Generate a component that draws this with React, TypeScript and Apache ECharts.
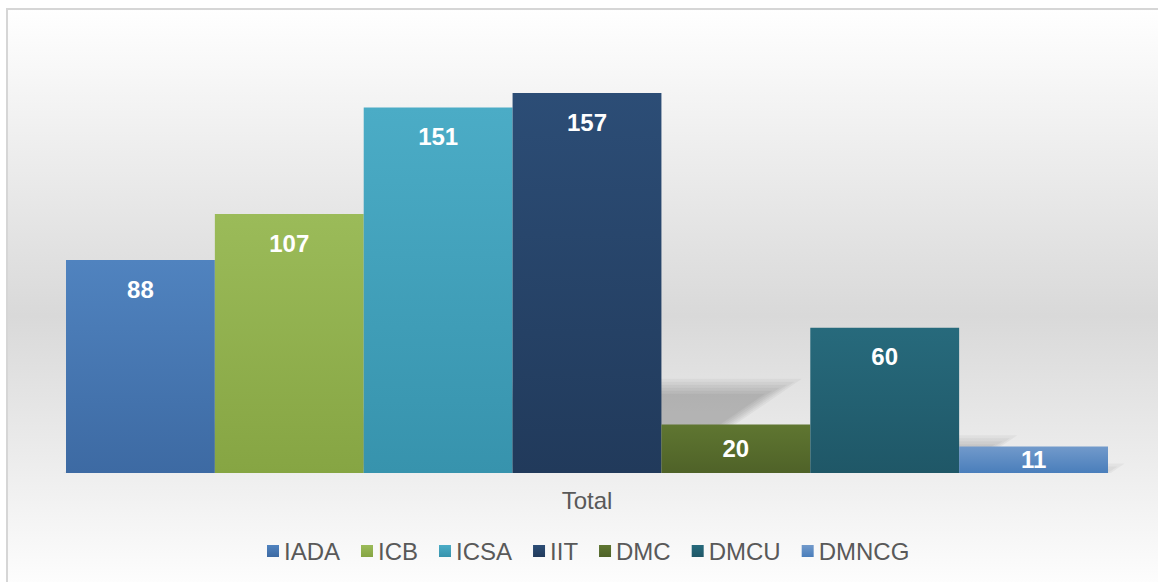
import React, { useEffect, useRef } from "react";
import * as echarts from "echarts";

const categories = ["Total"];
const seriesNames = ["IADA", "ICB", "ICSA", "IIT", "DMC", "DMCU", "DMNCG"];
const seriesValues = [88, 107, 151, 157, 20, 60, 11];
const topColors = ["#5083bf", "#9bbb59", "#4bacc6", "#2c4d76", "#5f7631", "#276a7c", "#729acb"];
const bottomColors = ["#3d6aa3", "#86a543", "#3793ad", "#213a5b", "#4f6228", "#1f5767", "#4a7ebb"];

export default function App() {
  const ref = useRef<HTMLDivElement>(null);
  useEffect(() => {
    if (!ref.current) return;
    const chart = echarts.init(ref.current, undefined, { renderer: "svg" });
    const font = "'Liberation Sans', Arial, sans-serif";
    const n = seriesNames.length;
    const barSeries = seriesNames.map((name, i) => ({
      name,
      type: "bar",
      z: 3,
      data: [seriesValues[i]],
      barGap: "0%",
      barCategoryGap: "0%",
      itemStyle: {
        color: new echarts.graphic.LinearGradient(0, 0, 0, 1, [
          { offset: 0, color: topColors[i] },
          { offset: 1, color: bottomColors[i] },
        ]),
      },
      label: {
        show: true,
        position: seriesValues[i] < 30 ? "inside" : "insideTop",
        distance: 17,
        color: "#ffffff",
        fontSize: 24,
        fontWeight: "bold",
        fontFamily: font,
      },
    }));
    // soft perspective shadows cast behind the bars (layered for a blur effect)
    const shadowSeries = {
      type: "custom",
      z: 1,
      silent: true,
      data: seriesValues.map((v, i) => [0, v, i]),
      encode: { x: 0, y: 1 },
      renderItem: (params: any, api: any) => {
        const idx = api.value(2);
        const top = api.coord([api.value(0), api.value(1)]);
        const base = api.coord([api.value(0), 0]);
        const band = api.size([1, 0])[0];
        const w = band / n;
        const x0 = base[0] - band / 2 + idx * w;
        const x1 = x0 + w;
        const h = base[1] - top[1];
        const sh = h * 0.24;
        const children: any[] = [];
        const layers = 6;
        for (let j = 0; j < layers; j++) {
          const d = (j - 1) * 3;
          const hh = Math.max(sh - d, 1);
          const s = 1.46 * hh;
          children.push({
            type: "polygon",
            shape: {
              points: [
                [x0 + d, base[1]],
                [x1 - d, base[1]],
                [x1 - d + s, base[1] - hh],
                [x0 + d + s, base[1] - hh],
              ],
            },
            style: { fill: "rgba(0,0,0,0.04)" },
          });
        }
        return { type: "group", children };
      },
    };
    chart.setOption({
      animation: false,
      graphic: [
        {
          type: "rect",
          z: -10,
          silent: true,
          shape: { x: 7, y: 9, width: 1200, height: 590 },
          style: {
            fill: new echarts.graphic.LinearGradient(0, 0, 0, 1, [
              { offset: 0, color: "#ffffff" },
              { offset: 0.52, color: "#d9d9d9" },
              { offset: 1, color: "#ffffff" },
            ]),
            stroke: "#d6d6d6",
            lineWidth: 2,
          },
        },
      ],
      grid: { left: 66, right: 50, top: 37.4, bottom: 109, containLabel: false },
      legend: {
        data: seriesNames,
        left: 267,
        top: 539,
        padding: 0,
        itemWidth: 12,
        itemHeight: 12,
        itemGap: 21,
        icon: "rect",
        textStyle: { fontSize: 24, color: "#595959", fontFamily: font },
      },
      xAxis: {
        type: "category",
        data: categories,
        axisLine: { show: false },
        axisTick: { show: false },
        axisLabel: { fontSize: 24, color: "#595959", fontFamily: font, margin: 15 },
      },
      yAxis: {
        type: "value",
        min: 0,
        max: 180,
        show: false,
        splitLine: { show: false },
      },
      series: [shadowSeries, ...barSeries],
    });
    return () => chart.dispose();
  }, []);
  return (
    <div
      ref={ref}
      style={{ position: "absolute", left: 0, top: 0, width: 1158, height: 582, background: "#ffffff" }}
    />
  );
}
